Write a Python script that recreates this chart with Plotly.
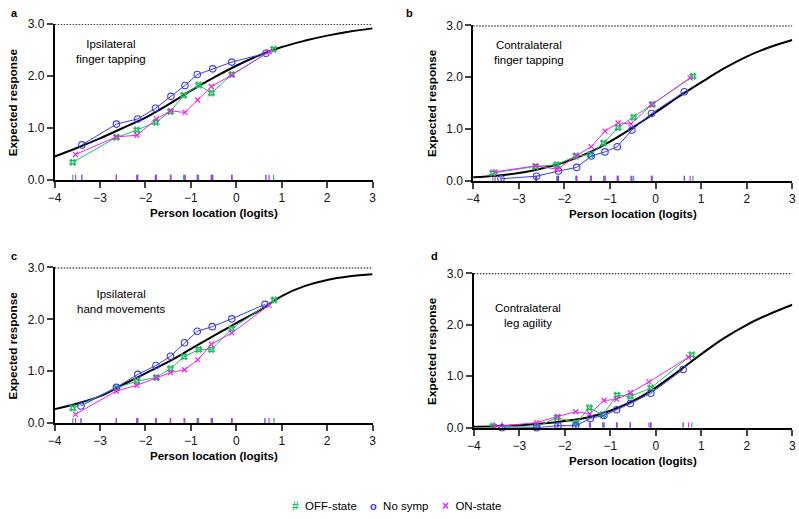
import plotly.graph_objects as go

# ---------------- data ----------------
curve_x = [-4, -3.5, -3, -2.5, -2, -1.5, -1, -0.5, 0, 0.5, 1, 1.5, 2, 2.5, 3]

# Panel a: Ipsilateral finger tapping
a_curve = [0.45, 0.62, 0.80, 1.00, 1.20, 1.45, 1.72, 1.97, 2.20, 2.40, 2.56, 2.68, 2.78, 2.86, 2.92]
a_off_x = [-3.60, -2.64, -2.19, -1.77, -1.45, -1.16, -0.83, -0.55, -0.10, 0.82]
a_off_y = [0.34, 0.82, 0.96, 1.11, 1.32, 1.63, 1.83, 1.675, 2.03, 2.52]
a_no_x = [-3.40, -2.64, -2.17, -1.78, -1.44, -1.13, -0.86, -0.52, -0.10, 0.65]
a_no_y = [0.675, 1.075, 1.175, 1.38, 1.61, 1.82, 2.03, 2.14, 2.27, 2.44]
a_on_x = [-3.54, -2.64, -2.19, -1.76, -1.45, -1.13, -0.85, -0.55, -0.10, 0.72]
a_on_y = [0.49, 0.83, 0.86, 1.175, 1.33, 1.30, 1.54, 1.80, 2.02, 2.47]

# Panel b: Contralateral finger tapping
b_curve = [0.07, 0.10, 0.15, 0.24, 0.36, 0.53, 0.76, 1.03, 1.32, 1.62, 1.90, 2.17, 2.40, 2.58, 2.72]
b_off_x = [-3.57, -2.63, -2.17, -1.75, -1.43, -1.14, -0.82, -0.48, -0.07, 0.82]
b_off_y = [0.15, 0.28, 0.31, 0.48, 0.51, 0.73, 1.03, 1.23, 1.48, 2.02]
b_no_x = [-3.39, -2.61, -2.13, -1.73, -1.41, -1.11, -0.84, -0.52, -0.09, 0.63]
b_no_y = [0.04, 0.09, 0.19, 0.26, 0.48, 0.56, 0.66, 0.98, 1.30, 1.72]
b_on_x = [-3.52, -2.63, -2.15, -1.73, -1.41, -1.11, -0.82, -0.54, -0.09, 0.76]
b_on_y = [0.175, 0.29, 0.225, 0.49, 0.66, 0.96, 1.12, 1.10, 1.47, 1.99]

# Panel c: Ipsilateral hand movements
c_curve = [0.27, 0.38, 0.52, 0.74, 0.96, 1.18, 1.43, 1.68, 1.93, 2.17, 2.45, 2.64, 2.76, 2.83, 2.87]
c_off_x = [-3.60, -2.64, -2.19, -1.76, -1.45, -1.15, -0.83, -0.55, -0.10, 0.83]
c_off_y = [0.29, 0.68, 0.81, 0.88, 1.05, 1.28, 1.42, 1.42, 1.82, 2.375]
c_no_x = [-3.42, -2.64, -2.17, -1.77, -1.45, -1.14, -0.86, -0.53, -0.10, 0.63]
c_no_y = [0.33, 0.69, 0.94, 1.11, 1.29, 1.55, 1.77, 1.86, 2.01, 2.29]
c_on_x = [-3.54, -2.64, -2.19, -1.76, -1.45, -1.14, -0.85, -0.55, -0.10, 0.72]
c_on_y = [0.17, 0.62, 0.73, 0.875, 0.975, 1.03, 1.22, 1.52, 1.74, 2.27]

# Panel d: Contralateral leg agility
d_curve = [0.02, 0.03, 0.05, 0.08, 0.13, 0.20, 0.33, 0.52, 0.78, 1.10, 1.43, 1.74, 2.00, 2.21, 2.39]
d_off_x = [-3.58, -2.62, -2.17, -1.75, -1.46, -1.17, -0.85, -0.56, -0.11, 0.79]
d_off_y = [0.03, 0.01, 0.20, 0.09, 0.39, 0.25, 0.63, 0.61, 0.77, 1.42]
d_no_x = [-3.38, -2.62, -2.15, -1.76, -1.44, -1.14, -0.86, -0.56, -0.11, 0.60]
d_no_y = [0.00, 0.00, 0.04, 0.04, 0.18, 0.24, 0.35, 0.47, 0.67, 1.13]
d_on_x = [-3.55, -2.62, -2.15, -1.76, -1.45, -1.14, -0.86, -0.56, -0.15, 0.72]
d_on_y = [0.02, 0.10, 0.22, 0.31, 0.27, 0.53, 0.55, 0.68, 0.89, 1.37]

x_ticks = [-4, -3, -2, -1, 0, 1, 2, 3]
y_ticks = [0.0, 1.0, 2.0, 3.0]
max_score = 3.0
group_names = ["OFF-state", "No symp", "ON-state"]
group_symbols = ["#", "o", "×"]
panel_letters = ["a", "b", "c", "d"]
panel_titles = ["Ipsilateral<br>finger tapping", "Contralateral<br>finger tapping",
                "Ipsilateral<br>hand movements", "Contralateral<br>leg agility"]

# ---------------- style ----------------
GREEN = "#1fbf5f"
BLUE = "#3b3bf5"
MAGENTA = "#ee22ee"
FONT = "Liberation Sans, Arial, sans-serif"
RUG_H = 0.1
W, H = 799, 519

panels = [
    (a_curve, [(a_off_x, a_off_y), (a_no_x, a_no_y), (a_on_x, a_on_y)]),
    (b_curve, [(b_off_x, b_off_y), (b_no_x, b_no_y), (b_on_x, b_on_y)]),
    (c_curve, [(c_off_x, c_off_y), (c_no_x, c_no_y), (c_on_x, c_on_y)]),
    (d_curve, [(d_off_x, d_off_y), (d_no_x, d_no_y), (d_on_x, d_on_y)]),
]

colors = [GREEN, BLUE, MAGENTA]
marker_styles = [
    dict(symbol="hash-open", size=7, lw=1.5),
    dict(symbol="circle-open", size=6.5, lw=1.1),
    dict(symbol="x-thin-open", size=5, lw=1.2),
]

xdoms = [[48.3 / W, 370.7 / W], [472.7 / W, 796.3 / W], [48.3 / W, 370.7 / W], [473.3 / W, 796.3 / W]]
ydoms = [[1 - 177.7 / H, 1 - 17.7 / H], [1 - 178.7 / H, 1 - 19 / H],
         [1 - 427.7 / H, 1 - 267.7 / H], [1 - 432.4 / H, 1 - 273.7 / H]]

fig = go.Figure()

for i, (curve, groups) in enumerate(panels):
    xa = "x" if i == 0 else f"x{i+1}"
    ya = "y" if i == 0 else f"y{i+1}"
    # dotted maximum line
    fig.add_trace(go.Scatter(x=[x_ticks[0], x_ticks[-1]], y=[max_score, max_score], mode="lines",
                             line=dict(color="black", width=1.8, dash="1.5px,1.5px"),
                             xaxis=xa, yaxis=ya, showlegend=False, hoverinfo="skip", cliponaxis=False))
    # rugs
    for (gx, gy), col in zip(groups, colors):
        rx, ry = [], []
        for v in gx:
            rx += [v, v, None]
            ry += [0, RUG_H, None]
        fig.add_trace(go.Scatter(x=rx, y=ry, mode="lines", line=dict(color=col, width=1.2),
                                 xaxis=xa, yaxis=ya, showlegend=False, hoverinfo="skip"))
    # expected curve
    fig.add_trace(go.Scatter(x=curve_x, y=curve, mode="lines", line=dict(color="black", width=2, shape="spline"),
                             xaxis=xa, yaxis=ya, showlegend=False, hoverinfo="skip"))
    # observed groups
    for (gx, gy), col, ms, name in zip(groups, colors, marker_styles, group_names):
        fig.add_trace(go.Scatter(x=gx, y=gy, mode="lines+markers", name=name,
                                 line=dict(color=col, width=1),
                                 marker=dict(symbol=ms["symbol"], size=ms["size"], color=col,
                                             line=dict(color=col, width=ms["lw"])),
                                 xaxis=xa, yaxis=ya, showlegend=False, cliponaxis=False))

layout = dict(
    width=W, height=H, margin=dict(l=0, r=0, t=0, b=0),
    paper_bgcolor="white", plot_bgcolor="white",
    font=dict(family=FONT, size=12, color="black"),
    showlegend=False,
)

annotations = []
for i in range(4):
    sfx = "" if i == 0 else str(i + 1)
    layout["xaxis" + sfx] = dict(domain=xdoms[i], range=[x_ticks[0], x_ticks[-1]], tickvals=x_ticks,
                                 ticks="outside", ticklen=6, tickwidth=1.5, showline=True, linewidth=1.8,
                                 linecolor="black", showgrid=False, zeroline=False, anchor="y" + sfx,
                                 tickfont=dict(size=12, color="#111"))
    layout["yaxis" + sfx] = dict(domain=ydoms[i], range=[0, max_score], tickvals=y_ticks, tickformat=".1f",
                                 ticks="outside", ticklen=6, tickwidth=1.5, showline=True, linewidth=1.8,
                                 linecolor="black", showgrid=False, zeroline=False, anchor="x" + sfx,
                                 tickfont=dict(size=12, color="#111"))
    x0, x1 = xdoms[i]
    y0, y1 = ydoms[i]
    # x title
    annotations.append(dict(text="<b>Person location (logits)</b>", xref="paper", yref="paper",
                            x=(x0 + x1) / 2, y=y0 - 34 / H, xanchor="center", yanchor="middle",
                            showarrow=False, font=dict(size=11.5)))
    # y title
    annotations.append(dict(text="<b>Expected response</b>", xref="paper", yref="paper",
                            x=x0 - 43 / W, y=(y0 + y1) / 2, xanchor="center", yanchor="middle",
                            textangle=-90, showarrow=False, font=dict(size=11.7)))

letter_pos = [(2, 6), (403, 6), (2, 256), (428, 256)]
for L, (px, py) in zip(panel_letters, letter_pos):
    annotations.append(dict(text=f"<b>{L}</b>", xref="paper", yref="paper", x=px / W, y=1 - py / H,
                            xanchor="left", yanchor="middle", showarrow=False, font=dict(size=11)))

title_pos = [(105, 45.5), (529, 46.5), (116, 303), (528, 317)]
for t, (px, py) in zip(panel_titles, title_pos):
    annotations.append(dict(text=t, xref="paper", yref="paper", x=px / W, y=1 - py / H,
                            xanchor="center", yanchor="middle", showarrow=False, font=dict(size=11.5)))

# legend (symbol + label)
legend_left = [286.5, 366.5, 439]
legend_sym_size = [12, 11, 12]
for name, sym, col, lx, ss in zip(group_names, group_symbols, colors, legend_left, legend_sym_size):
    annotations.append(dict(text=f"<span style='color:{col};font-size:{ss}px'><b>{sym}</b></span>&nbsp;&nbsp;{name}",
                            xref="paper", yref="paper", x=lx / W, y=1 - 513 / H,
                            xanchor="left", yanchor="middle", showarrow=False, font=dict(size=11.5)))

layout["annotations"] = annotations
fig.update_layout(**layout)
fig.write_html("out.html")
